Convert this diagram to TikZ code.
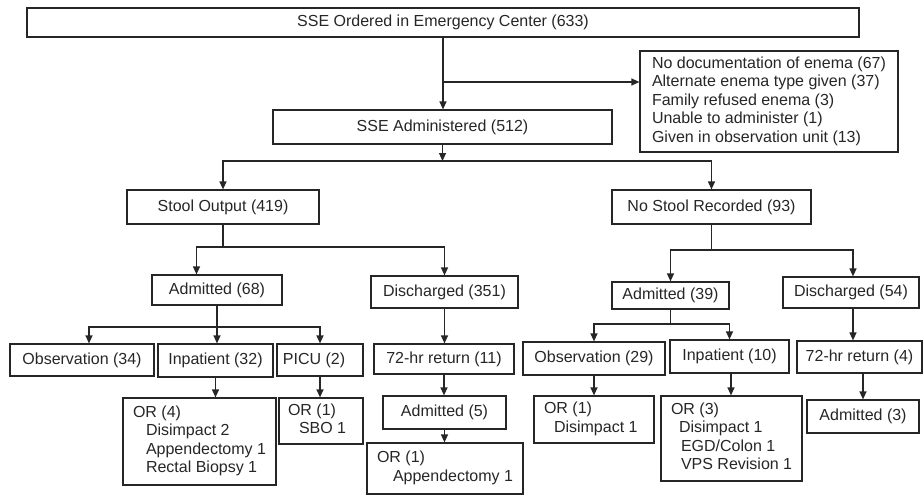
\documentclass[tikz,border=0pt]{standalone}
\usepackage{fontspec}
\setmainfont{Liberation Sans}
\usetikzlibrary{arrows.meta}
\definecolor{ink}{HTML}{262626}
\newcommand\bx[6]{%
  \pgfmathsetmacro\bxw{#4-#2}\pgfmathsetmacro\bxh{#5-#3}%
  \pgfmathsetmacro\bxx{(#2+#4)/2}\pgfmathsetmacro\bxy{(#3+#5)/2}%
  \node[box,minimum width=\bxw pt,minimum height=\bxh pt] (#1) at (\bxx,\bxy) {#6};}
\newcommand\lbx[7]{%
  \pgfmathsetmacro\bxw{#4-#2}\pgfmathsetmacro\bxh{#5-#3}%
  \pgfmathsetmacro\bxx{(#2+#4)/2}\pgfmathsetmacro\bxy{(#3+#5)/2}%
  \pgfmathsetmacro\bxt{#4-#2-2*#6}%
  \node[box,minimum width=\bxw pt,minimum height=\bxh pt] (#1) at (\bxx,\bxy)
    {\makebox[\bxt pt][l]{\begin{tabular}{@{}l@{}}#7\end{tabular}}};}
\tikzset{
  box/.style={draw=ink,line width=1.2pt,inner sep=0pt,text=ink,
    font=\fontsize{16}{18.5}\selectfont},
  conn/.style={draw=ink,line width=1.2pt},
  arr/.style={conn,-{Triangle[length=8pt,width=7pt]}}
}
\begin{document}
\begin{tikzpicture}[x=1pt,y=-1pt]
\useasboundingbox (0,0) rectangle (924,498);
\bx{ord}{27}{8}{859}{37}{SSE Ordered in Emergency Center (633)}
\lbx{side}{640}{51}{898}{152}{12}{No documentation of enema (67)\\Alternate enema type given (37)\\Family refused enema (3)\\Unable to administer (1)\\Given in observation unit (13)}
\bx{adm}{273}{110}{612}{144}{SSE Administered (512)}
\bx{stool}{127}{190}{319}{224}{Stool Output (419)}
\bx{nostool}{612}{190}{811}{224}{No Stool Recorded (93)}
\bx{a68}{152}{275}{282}{305}{Admitted (68)}
\bx{d351}{371}{276}{518}{308}{Discharged (351)}
\bx{obs34}{10}{344}{154}{376}{Observation (34)}
\bx{inp32}{158}{344}{273}{377}{Inpatient (32)}
\bx{picu}{277}{344}{363}{376}{PICU (2)\hspace*{12pt}}
\bx{r11}{374}{344}{514}{374}{72-hr return (11)}
\lbx{or4}{123}{398}{276}{485}{10}{OR (4)\\\hspace*{13pt}Disimpact 2\\\hspace*{13pt}Appendectomy 1\\\hspace*{13pt}Rectal Biopsy 1}
\lbx{orsbo}{279}{398}{363}{444}{9}{OR (1)\\\hspace*{11pt}SBO 1}
\bx{a5}{383}{396}{506}{429}{Admitted (5)}
\lbx{orapp}{367}{443}{523}{494}{10}{OR (1)\\\hspace*{16pt}Appendectomy 1}
\bx{a39}{612}{282}{729}{309}{Admitted (39)}
\bx{d54}{783}{277}{919}{308}{Discharged (54)}
\bx{obs29}{523}{342}{665}{375}{Observation (29)}
\bx{inp10}{670}{340}{789}{373}{Inpatient (10)}
\bx{r4}{797}{341}{922}{373}{72-hr return (4)}
\lbx{ordis}{534}{396}{654}{443}{10}{OR (1)\\\hspace*{10pt}Disimpact 1}
\lbx{or3}{661}{396}{802}{481}{10}{OR (3)\\\hspace*{8pt}Disimpact 1\\\hspace*{10pt}EGD/Colon 1\\\hspace*{10pt}VPS Revision 1}
\bx{a3}{807}{400}{919}{433}{Admitted (3)}
% junctions
\coordinate (j1) at (443,82);
\coordinate (b1) at (442.5,161);
\coordinate (b2) at (223,247);
\coordinate (b3) at (217,327);
\coordinate (b4) at (711.5,250);
\coordinate (b5) at (670.5,324);
% connectors
\draw[arr] (ord.south) -- (ord.south |- adm.north);
\draw[arr] (j1) -- (j1 -| side.west);
\draw[arr] (adm.south) -- (b1);
\draw[arr] (b1) -| (stool.north);
\draw[arr] (b1) -| (nostool.north);
\draw[conn] (stool.south) -- (b2);
\draw[arr] (b2) -| ([xshift=-20.5pt]a68.north);
\draw[arr] (b2) -| (d351.north);
\draw[conn] (a68.south) -- (b3);
\draw[arr] (b3) -| ([xshift=7pt]obs34.north);
\draw[arr] (b3) -- (b3 |- inp32.north);
\draw[arr] (b3) -| (picu.north);
\draw[arr] (d351.south) -- (d351.south |- r11.north);
\draw[arr] (r11.south) -- (r11.south |- a5.north);
\draw[arr] (a5.south) -- (a5.south |- orapp.north);
\draw[arr] (inp32.south) -- (inp32.south |- or4.north);
\draw[arr] (picu.south) -- (picu.south |- orsbo.north);
\draw[conn] (nostool.south) -- (b4);
\draw[arr] (b4) -| (a39.north);
\draw[arr] (b4) -| ([xshift=2pt]d54.north);
\draw[conn] (a39.south) -- (b5);
\draw[arr] (b5) -| (obs29.north);
\draw[arr] (b5) -| (inp10.north);
\draw[arr] (obs29.south) -- (obs29.south |- ordis.north);
\draw[arr] ([xshift=1.5pt]inp10.south) -- ([xshift=1.5pt]inp10.south |- or3.north);
\draw[arr] ([xshift=2pt]d54.south) -- ([xshift=2pt]d54.south |- r4.north);
\draw[arr] (a3.north |- r4.south) -- (a3.north);
\end{tikzpicture}
\end{document}
